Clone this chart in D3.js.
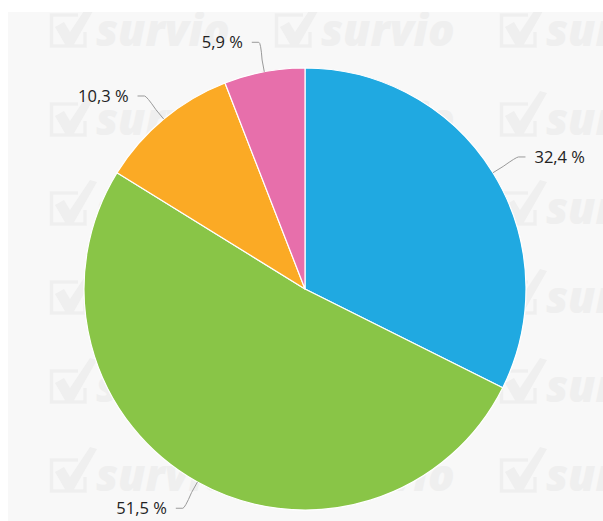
<!DOCTYPE html>
<html>
<head>
<meta charset="utf-8">
<script src="https://cdn.jsdelivr.net/npm/d3@7"></script>
<style>
html,body{margin:0;padding:0;background:#fff;}
svg{display:block;}
</style>
</head>
<body>
<svg id="chart" width="603" height="521"></svg>
<script>
const categories = ["A", "B", "C", "D"];
const values = [32.4, 51.5, 10.3, 5.9];
const labels = ["32,4 %", "51,5 %", "10,3 %", "5,9 %"];
const colors = ["#20a9e1", "#89c547", "#fbaa25", "#e76fab"];

const W = 603, H = 521;
const svg = d3.select("#chart");

// panel background
svg.append("rect").attr("x", 8).attr("y", 12).attr("width", W - 8).attr("height", H - 12).attr("fill", "#f8f8f8");

// watermark tiles
const wmColor = "#efefef";
const clip = svg.append("clipPath").attr("id", "panel");
clip.append("rect").attr("x", 8).attr("y", 12).attr("width", W - 8).attr("height", H - 12);
const wm = svg.append("g").attr("fill", wmColor).attr("stroke", "none").attr("clip-path", "url(#panel)");
const cols = [50, 275, 500];
const rows = [2, 91, 180, 269, 358, 447];
rows.forEach(ry => cols.forEach(cx => {
  const g = wm.append("g").attr("transform", `translate(${cx},${ry})`);
  g.append("path").attr("fill", "none").attr("stroke", wmColor).attr("stroke-width", 3.5)
    .attr("d", "M28,13 L1.5,13 L1.5,44 L35,44 L35,30");
  g.append("path").attr("d", "M5,25 L14,20 L20,30 L40,0 L47,2 L23,44 L16,44 Z");
  g.append("text").attr("x", 46).attr("y", 44).attr("font-family", "Open Sans").attr("font-weight", 800)
    .attr("font-style", "italic").attr("font-size", 44).text("survio");
}));

// pie
const cx = 305, cy = 289, r = 221, dist = 30;
const pie = d3.pie().sort(null).value(d => d);
const arcs = pie(values);
const arc = d3.arc().innerRadius(0).outerRadius(r);
const g = svg.append("g").attr("transform", `translate(${cx},${cy})`);
g.selectAll("path.slice").data(arcs).join("path").attr("class", "slice")
  .attr("d", arc).attr("fill", (d, i) => colors[i]).attr("stroke", "#fff").attr("stroke-width", 1.2)
  .attr("stroke-linejoin", "round");

// labels and connectors
const R = r + dist;
arcs.forEach((d, i) => {
  const a = (d.startAngle + d.endAngle) / 2;
  const s = Math.sin(a), c = -Math.cos(a);
  const right = s >= 0;
  const ex = s * r, ey = c * r;
  const ly = c * R;
  const xc = (right ? 1 : -1) * Math.sqrt(Math.max(0, R * R - ly * ly));
  const endX = xc + (right ? 7 : -7);
  const mx = s * (r + 12), my = c * (r + 12);
  g.append("path").attr("fill", "none").attr("stroke", "#9a9a9a").attr("stroke-width", 1)
    .attr("d", `M${endX},${ly} L${xc},${ly} Q${xc - (right ? 1 : -1) * 2},${ly} ${mx},${my} L${ex},${ey}`);
  g.append("text").attr("x", endX + (right ? 9 : -9)).attr("y", ly).attr("dy", "0.35em")
    .attr("text-anchor", right ? "start" : "end")
    .attr("font-family", "Open Sans").attr("font-size", 16.5).attr("fill", "#222")
    .text(labels[i]);
});
</script>
</body>
</html>
